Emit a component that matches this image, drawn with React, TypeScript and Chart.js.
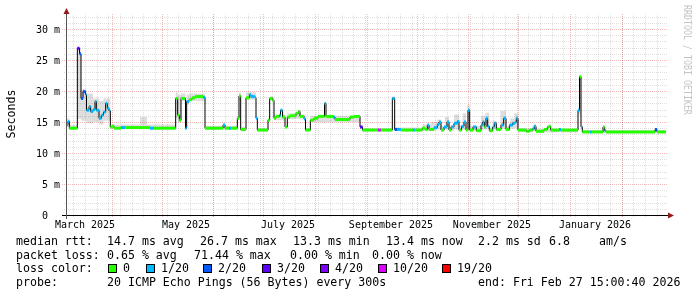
import React, { useEffect, useRef } from "react";
import { Chart, registerables } from "chart.js";

Chart.register(...registerables);

const W = 697;
const H = 297;
const MONO = '"DejaVu Sans Mono", monospace';

// time frame: one graph of 360 days ending at the "end" stamp
const endStamp = Date.UTC(2026, 1, 27, 15, 0, 40);
const spanDays = 360;
const startStamp = endStamp - spanDays * 864e5;
const toDay = (t: number) => (t - startStamp) / 864e5;

// median rtt steps: day offset from graph start, value in ms, loss class index
const medianDays = [
  0, 1.2, 2.0, 6.8, 8.1, 9.0, 10.2, 11.7, 12.3, 13.8,
  14.8, 16.2, 17.4, 18.2, 19.8, 21.2, 22.5, 23.8, 24.8, 25.8,
  26.6, 27.6, 28.8, 33.0, 35.4, 50.4, 52.8, 65.8, 67.0, 68.0,
  69.0, 71.7, 72.4, 73.8, 75.6, 77.4, 82.2, 83.4, 94.2, 95.4,
  97.8, 99.0, 102.8, 103.8, 104.8, 108.0, 110.0, 111.0, 113.4, 114.0,
  114.8, 121.2, 122.2, 123.8, 124.8, 126.0, 128.1, 128.7, 129.9, 131.4,
  132.8, 134.4, 138.0, 139.4, 140.4, 142.8, 143.7, 146.6, 148.8, 151.2,
  155.1, 156.0, 160.2, 161.4, 170.4, 172.8, 176.4, 177.9, 187.2, 188.9,
  195.8, 197.2, 198.6, 201.0, 208.2, 209.4, 213.8, 215.4, 216.8, 217.8,
  220.8, 222.8, 223.8, 225.0, 226.8, 228.6, 229.8, 231.0, 232.8, 234.8,
  235.8, 237.3, 238.8, 240.0, 241.2, 242.2, 244.2, 246.2, 249.0, 250.0,
  251.0, 252.0, 253.0, 254.0, 256.0, 257.0, 258.2, 261.0, 262.6, 264.0,
  266.0, 268.0, 269.4, 270.2, 271.2, 276.2, 278.0, 280.0, 281.0, 282.0,
  286.8, 288.8, 289.8, 290.8, 295.8, 297.0, 307.2, 308.1, 309.0, 309.8,
  314.4, 315.4, 322.2, 323.2, 324.0, 353.4, 354.6, 360.0,
];
const medianMs = [
  14.6, 15.1, 14.0, 26.9, 26.0, 18.8, 19.9, 19.4, 16.9, 17.5,
  16.7, 17.0, 18.3, 16.9, 15.6, 16.1, 16.6, 18.0, 17.2, 16.8,
  14.2, 14.3, 14.0, 14.1, 14.1, 14.0, 14.0, 18.8, 16.1, 15.3,
  18.8, 14.0, 18.3, 18.6, 18.9, 19.1, 19.0, 14.0, 14.5, 14.0,
  14.0, 14.0, 15.6, 19.2, 13.8, 18.9, 19.4, 19.1, 18.9, 15.6,
  13.7, 15.3, 18.8, 18.5, 15.6, 15.9, 16.1, 16.9, 15.8, 14.2,
  15.8, 16.0, 16.4, 16.7, 15.9, 15.5, 13.7, 15.3, 15.6, 15.9,
  18.0, 15.9, 15.8, 15.4, 15.8, 15.9, 14.2, 13.7, 13.7, 13.7,
  18.8, 13.8, 13.8, 13.7, 13.7, 13.7, 14.0, 13.8, 14.5, 13.8,
  14.1, 14.6, 15.0, 13.7, 14.2, 15.0, 13.7, 14.2, 14.8, 15.1,
  13.7, 14.3, 15.0, 13.7, 16.9, 13.7, 14.2, 13.6, 14.5, 15.0,
  14.2, 15.6, 14.3, 13.6, 14.2, 14.8, 13.8, 14.5, 15.6, 13.8,
  14.5, 14.8, 15.0, 15.6, 13.7, 13.5, 13.7, 13.9, 14.3, 13.5,
  13.8, 14.2, 14.3, 13.7, 13.8, 13.7, 16.9, 22.3, 14.2, 13.4,
  13.4, 13.4, 14.2, 13.6, 13.4, 13.8, 13.4, 13.4,
];
const medianLoss = [
  1, 1, 0, 3, 2, 2, 2, 1, 1, 1,
  1, 1, 1, 1, 1, 1, 1, 1, 1, 1,
  0, 0, 0, 1, 0, 1, 0, 0, 0, 0,
  0, 1, 1, 0, 0, 0, 1, 0, 1, 0,
  1, 0, 0, 0, 0, 0, 1, 1, 1, 1,
  0, 0, 0, 0, 0, 0, 1, 1, 0, 0,
  0, 0, 0, 0, 0, 1, 0, 0, 0, 0,
  1, 0, 1, 0, 0, 0, 3, 0, 5, 0,
  1, 2, 1, 0, 1, 0, 0, 0, 1, 0,
  1, 1, 1, 0, 1, 1, 0, 1, 1, 1,
  0, 1, 1, 0, 1, 0, 1, 0, 1, 1,
  0, 1, 1, 0, 1, 1, 0, 1, 1, 0,
  1, 1, 1, 1, 0, 0, 0, 1, 1, 0,
  0, 0, 0, 0, 1, 0, 1, 0, 1, 0,
  1, 0, 0, 1, 0, 2, 0, 0,
];

// smoke (spread of the pings): day offset, low and high rtt in ms
const smokeDays = [
  0, 2.0, 6.8, 9.0, 12.3, 16.2, 19.8, 22.5, 26.6, 40.0,
  44.4, 48.6, 65.8, 67.0, 69.0, 71.7, 72.4, 73.8, 83.4, 102.8,
  103.8, 104.8, 108.0, 114.0, 114.8, 121.2, 122.2, 124.8, 131.4, 132.8,
  140.4, 143.7, 146.6, 176.4, 177.9, 195.8, 197.2, 213.8, 219.0, 222.8,
  225.0, 227.4, 229.8, 232.8, 235.8, 238.0, 240.0, 240.8, 242.2, 249.0,
  251.6, 254.0, 256.0, 258.2, 260.6, 264.0, 266.4, 269.0, 271.2, 280.0,
  282.0, 307.2, 308.1, 309.0, 309.8, 360.0,
];
const smokeLo = [
  14.2, 13.8, 15.5, 15.2, 14.8, 15.0, 14.6, 15.2, 13.9, 13.9,
  13.9, 13.9, 15.6, 15.0, 18.4, 13.8, 17.8, 18.4, 13.8, 15.3,
  18.6, 13.6, 18.6, 15.3, 13.5, 15.0, 18.5, 15.3, 14.0, 15.5,
  15.6, 13.5, 15.0, 13.9, 13.5, 18.5, 13.5, 13.6, 13.6, 13.8,
  13.5, 13.8, 13.5, 13.8, 13.5, 13.8, 13.5, 14.0, 13.5, 13.8,
  13.8, 13.4, 13.8, 13.5, 13.9, 13.5, 13.9, 14.0, 13.4, 13.5,
  13.3, 16.4, 16.0, 13.8, 13.2, 13.2,
];
const smokeHi = [
  15.6, 14.5, 27.0, 20.3, 19.6, 18.8, 18.4, 18.8, 14.6, 14.6,
  15.8, 14.6, 19.8, 19.4, 19.6, 18.6, 19.4, 19.6, 14.4, 16.0,
  19.8, 14.2, 19.8, 16.0, 14.0, 15.6, 19.1, 16.2, 14.5, 16.4,
  16.2, 14.0, 16.0, 14.5, 14.0, 19.1, 14.1, 14.6, 15.0, 15.4,
  14.4, 15.8, 14.4, 16.2, 14.4, 16.4, 14.2, 17.8, 14.4, 16.0,
  16.5, 14.2, 15.2, 14.2, 16.8, 14.3, 15.6, 16.4, 14.0, 14.6,
  13.9, 17.2, 22.5, 14.5, 13.7, 13.7,
];

const lossLabels = ["0", "1/20", "2/20", "3/20", "4/20", "10/20", "19/20"];
const lossColors = ["#26ff00", "#00b8ff", "#0059ff", "#5e00ff", "#7e00ff", "#dd00ff", "#ff0000"];

const yMajorValues = [0, 5, 10, 15, 20, 25, 30];
const yMajorLabels = ["0", "5 m", "10 m", "15 m", "20 m", "25 m", "30 m"];
const yMax = 32.42;

const xLabelTexts = ["March 2025", "May 2025", "July 2025", "September 2025", "November 2025", "January 2026"];
const xLabelMonths = [[2025, 2], [2025, 4], [2025, 6], [2025, 8], [2025, 10], [2026, 0]];

const rttStats = ["14.7 ms avg", "26.7 ms max", "13.3 ms min", "13.4 ms now", "2.2 ms sd", "6.8", "am/s"];
const lossStats = ["0.65 % avg", "71.44 % max", "0.00 % min", "0.00 % now"];
const probeText = "20 ICMP Echo Pings (56 Bytes) every 300s";
const endText = "end: Fri Feb 27 15:00:40 2026";

const MINOR = "rgba(150,150,150,0.3)";
const MAJOR = "rgba(215,80,80,0.4)";
const ARROW = "#931b1b";

const rrdPlugin = {
  id: "rrdLook",
  beforeDraw(chart: any) {
    const ctx = chart.ctx;
    ctx.save();
    ctx.fillStyle = "#ffffff";
    ctx.fillRect(0, 0, chart.width, chart.height);
    ctx.restore();
  },
  beforeDatasetsDraw(chart: any) {
    const { ctx, chartArea } = chart;
    const xs = chart.scales.x;
    const ys = chart.scales.y;
    const top = chartArea.top;
    const bottom = chartArea.bottom;
    const seg = (x1: number, y1: number, x2: number, y2: number) => {
      ctx.beginPath();
      ctx.moveTo(x1, y1);
      ctx.lineTo(x2, y2);
      ctx.stroke();
    };
    ctx.save();
    ctx.lineWidth = 1;
    ctx.setLineDash([1, 1]);
    // minor horizontal grid (1 ms)
    ctx.strokeStyle = MINOR;
    for (let v = 1; v <= Math.floor(yMax); v++) {
      if (v % 5 === 0) continue;
      const py = Math.round(ys.getPixelForValue(v)) + 0.5;
      seg(64, py, 668, py);
    }
    // weekly vertical grid (Sundays)
    for (let t = Date.UTC(2025, 2, 9); toDay(t) <= spanDays; t += 7 * 864e5) {
      const px = Math.round(xs.getPixelForValue(toDay(t))) + 0.5;
      seg(px, top, px, bottom + 2);
    }
    // major horizontal grid
    ctx.strokeStyle = MAJOR;
    for (const v of yMajorValues) {
      if (v === 0) continue;
      const py = Math.round(ys.getPixelForValue(v)) + 0.5;
      seg(62, py, 668, py);
    }
    // monthly vertical grid
    for (let m = 3; m <= 13; m++) {
      const t = Date.UTC(2025, m, 1);
      const d = toDay(t);
      if (d < 0 || d > spanDays) continue;
      const px = Math.round(xs.getPixelForValue(d)) + 0.5;
      seg(px, top, px, bottom + 3);
    }
    ctx.restore();
  },
  afterDraw(chart: any) {
    const { ctx, chartArea } = chart;
    const xs = chart.scales.x;
    const ys = chart.scales.y;
    const axisY = Math.round(ys.getPixelForValue(0)) + 0.5;
    const axisX = Math.round(chartArea.left) + 0.5;
    ctx.save();
    ctx.setLineDash([]);
    ctx.lineWidth = 1;
    // axes
    ctx.strokeStyle = "#000000";
    ctx.beginPath();
    ctx.moveTo(62, axisY);
    ctx.lineTo(669, axisY);
    ctx.stroke();
    ctx.strokeStyle = "#555555";
    ctx.beginPath();
    ctx.moveTo(axisX, 219);
    ctx.lineTo(axisX, 13);
    ctx.stroke();
    // arrows
    ctx.fillStyle = ARROW;
    ctx.beginPath();
    ctx.moveTo(axisX - 3, 14);
    ctx.lineTo(axisX + 3, 14);
    ctx.lineTo(axisX, 8);
    ctx.closePath();
    ctx.fill();
    ctx.beginPath();
    ctx.moveTo(668, axisY - 3);
    ctx.lineTo(668, axisY + 3);
    ctx.lineTo(674, axisY);
    ctx.closePath();
    ctx.fill();

    // y labels
    ctx.fillStyle = "#000000";
    ctx.font = `10px ${MONO}`;
    ctx.textAlign = "right";
    ctx.textBaseline = "alphabetic";
    yMajorValues.forEach((v, i) => {
      const py = Math.round(ys.getPixelForValue(v)) + 0.5;
      const lbl = yMajorLabels[i].indexOf(" ") >= 0 ? yMajorLabels[i] : yMajorLabels[i] + "  ";
      ctx.fillText(lbl, 60, py + 3.5);
    });
    // x labels, centered on the middle of their month
    ctx.textAlign = "center";
    xLabelTexts.forEach((txt, i) => {
      const [yy, mm] = xLabelMonths[i];
      const a = toDay(Date.UTC(yy, mm, 1));
      const b = toDay(Date.UTC(yy, mm + 1, 1));
      const px = xs.getPixelForValue((a + b) / 2);
      ctx.fillText(txt, Math.round(px) - 1, 228);
    });

    // vertical axis title
    ctx.save();
    ctx.font = `11.6px ${MONO}`;
    ctx.translate(15, 114);
    ctx.rotate(-Math.PI / 2);
    ctx.textAlign = "center";
    ctx.fillText("Seconds", 0, 0);
    ctx.restore();

    // watermark
    ctx.save();
    ctx.font = `10.5px ${MONO}`;
    ctx.fillStyle = "#c4c4c4";
    ctx.translate(684, 5);
    ctx.rotate(Math.PI / 2);
    ctx.scale(0.79, 1);
    ctx.textAlign = "left";
    ctx.fillText("RRDTOOL / TOBI OETIKER", 0, 0);
    ctx.restore();

    // legend
    ctx.font = `11.6px ${MONO}`;
    ctx.textAlign = "left";
    ctx.fillStyle = "#000000";
    const r1 = 245, r2 = 259, r3 = 272, r4 = 286;
    ctx.fillText("median rtt:", 16, r1);
    const rttX = [107, 200, 293, 386, 478, 549, 599];
    rttStats.forEach((s, i) => ctx.fillText(s, rttX[i], r1));
    ctx.fillText("packet loss:", 16, r2);
    const lossX = [107, 194, 290, 372];
    lossStats.forEach((s, i) => ctx.fillText(s, lossX[i], r2));
    ctx.fillText("loss color:", 16, r3);
    const boxX = [108, 146, 203, 262, 320, 378, 442];
    lossLabels.forEach((s, i) => {
      const bx = boxX[i];
      ctx.fillStyle = lossColors[i];
      ctx.fillRect(bx, 264, 9, 9);
      ctx.strokeStyle = "#000000";
      ctx.strokeRect(bx + 0.5, 264.5, 8, 8);
      ctx.fillStyle = "#000000";
      ctx.fillText(s, bx + 15, r3);
    });
    ctx.fillText("probe:", 16, r4);
    ctx.fillText(probeText, 107, r4);
    ctx.fillText(endText, 478, r4);
    ctx.restore();
  },
};

export default function App() {
  const ref = useRef<HTMLCanvasElement | null>(null);
  useEffect(() => {
    const canvas = ref.current;
    if (!canvas) return;
    const medianPts = medianDays.map((d, i) => ({ x: d, y: medianMs[i] }));
    const overlay: { x: number; y: number | null }[] = [];
    for (let i = 0; i < medianDays.length - 1; i++) {
      overlay.push({ x: medianDays[i], y: medianMs[i] });
      overlay.push({ x: medianDays[i + 1], y: medianMs[i] });
      overlay.push({ x: medianDays[i + 1], y: null });
    }
    const loPts = smokeDays.map((d, i) => ({ x: d, y: smokeLo[i] }));
    const hiPts = smokeDays.map((d, i) => ({ x: d, y: smokeHi[i] }));

    const chart = new Chart(canvas, {
      type: "line",
      data: {
        datasets: [
          {
            label: "smoke low",
            data: loPts,
            stepped: true,
            borderColor: "transparent",
            borderWidth: 1,
            pointRadius: 0,
            fill: false,
            order: 4,
          },
          {
            label: "smoke high",
            data: hiPts,
            stepped: true,
            borderColor: "transparent",
            borderWidth: 1,
            pointRadius: 0,
            backgroundColor: "rgba(0,0,0,0.13)",
            fill: "-1",
            order: 3,
          },
          {
            label: "median",
            data: medianPts,
            stepped: true,
            borderColor: "#000000",
            borderWidth: 1,
            pointRadius: 0,
            fill: false,
            order: 2,
          },
          {
            label: "median loss color",
            data: overlay,
            borderColor: lossColors[0],
            borderWidth: 3,
            borderCapStyle: "butt",
            pointRadius: 0,
            spanGaps: false,
            fill: false,
            order: 1,
            segment: {
              borderColor: (c: any) => lossColors[medianLoss[Math.floor(c.p0DataIndex / 3)]],
            },
          },
        ],
      },
      options: {
        animation: false,
        responsive: false,
        devicePixelRatio: 1,
        events: [],
        layout: { padding: { left: 66, right: 31, top: 14, bottom: 82 } },
        plugins: { legend: { display: false }, tooltip: { enabled: false } },
        scales: {
          x: { type: "linear", min: 0, max: spanDays, display: false },
          y: { type: "linear", min: 0, max: yMax, display: false },
        },
      },
      plugins: [rrdPlugin],
    } as any);
    return () => chart.destroy();
  }, []);

  return (
    <div style={{ position: "absolute", left: 0, top: 0, width: W, height: H, background: "#ffffff" }}>
      <canvas ref={ref} width={W} height={H} style={{ display: "block", width: W, height: H }} />
    </div>
  );
}
